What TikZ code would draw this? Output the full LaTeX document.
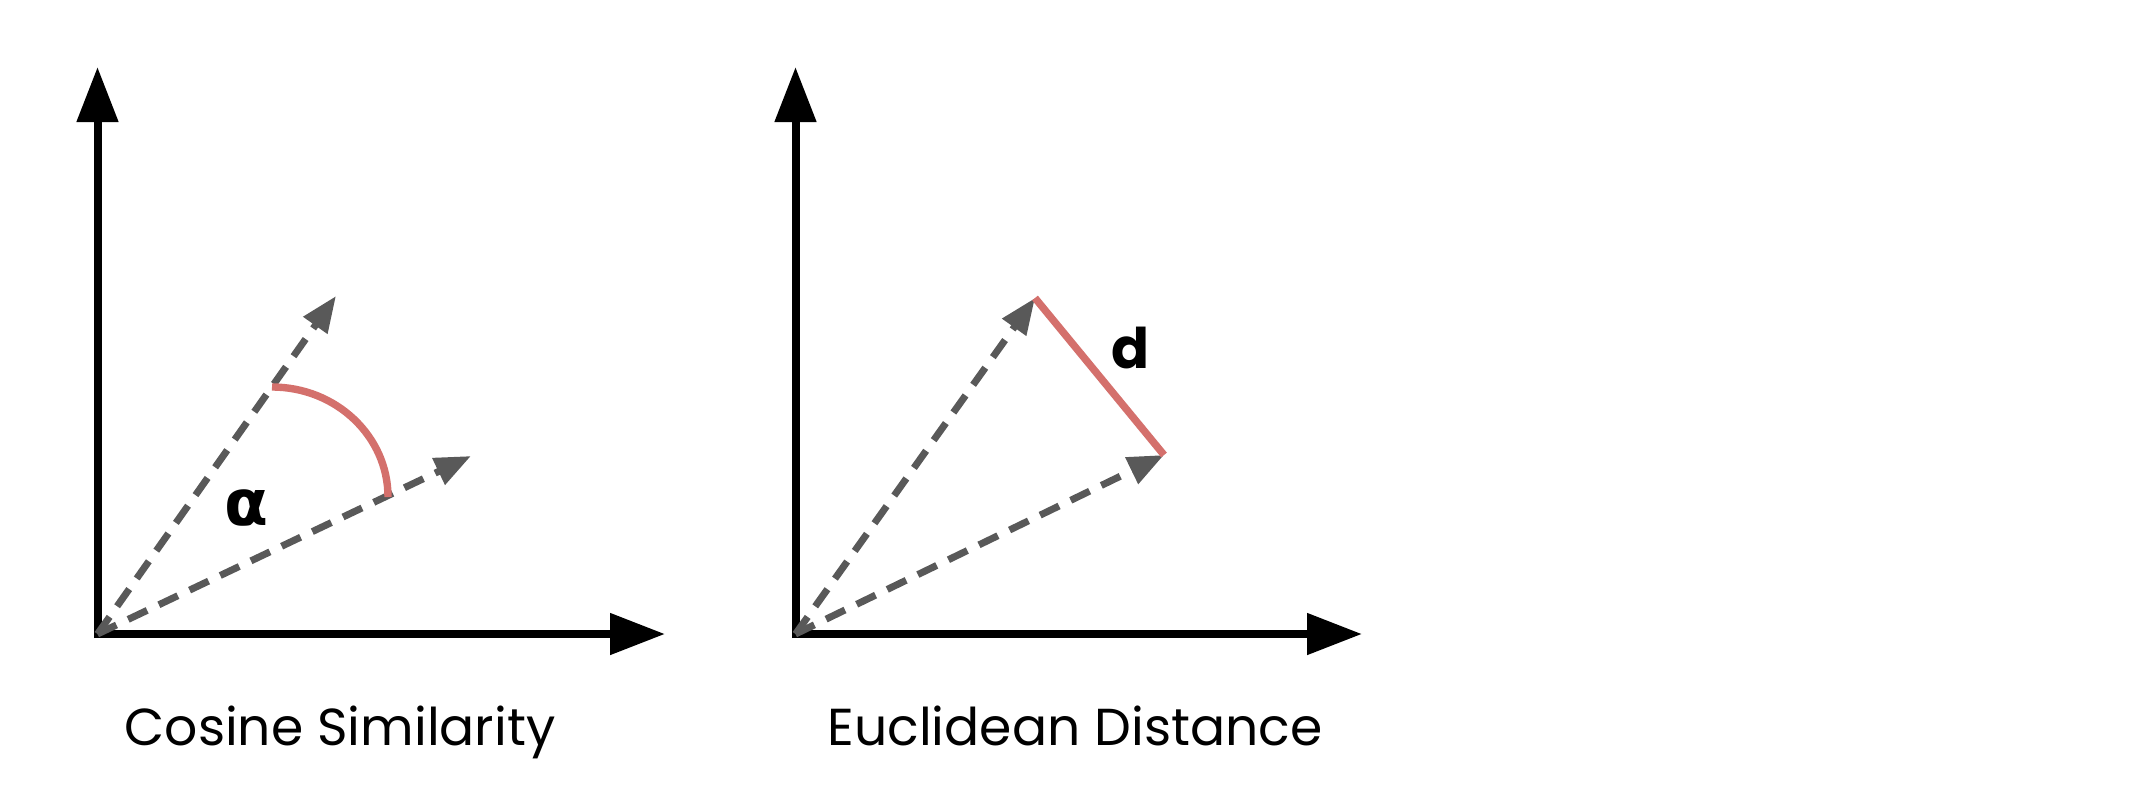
\documentclass[tikz,border=0pt]{standalone}
\usepackage{fontspec}
\setmainfont{Poppins}
\newfontfamily\greekfont{DejaVu Sans}
\usetikzlibrary{arrows.meta}
\definecolor{vecgrey}{HTML}{595959}
\definecolor{distred}{HTML}{D4706C}
\tikzset{
  axis/.style={line width=4pt, -{Triangle[length=27.5pt,width=20pt]}},
  vec/.style={vecgrey, line width=3.5pt, dash pattern=on 10.5pt off 6.5pt,
    -{Triangle[length=18pt,width=14pt]}},
  gap/.style={distred, line width=3.7pt},
  lbl/.style={font=\fontsize{26}{30}\selectfont},
  sym/.style={font=\fontsize{28}{32}\selectfont\bfseries}
}
\begin{document}
\begin{tikzpicture}[x=0.5pt,y=-0.5pt]
  \useasboundingbox (0,0) rectangle (2150,810);
  \draw
    (97.5,634) coordinate (o1)
    (97.5,67) coordinate (y1)
    (665,634) coordinate (x1)
    (336,296) coordinate (u1)
    (471,456) coordinate (v1)
    (272,387) coordinate (a1)
    (795.5,634) coordinate (o2)
    (795.5,67) coordinate (y2)
    (1362,634) coordinate (x2)
    (1035,298) coordinate (u2)
    (1164,455) coordinate (v2);
  \begin{scope}[axis]
    \draw ([yshift=-2pt]o1) to (y1);
    \draw (o1) to (x1);
    \draw ([yshift=-2pt]o2) to (y2);
    \draw (o2) to (x2);
  \end{scope}
  \begin{scope}[vec]
    \draw (o1) to (u1);
    \draw (o1) to (v1);
    \draw (o2) to (u2);
    \draw (o2) to (v2);
  \end{scope}
  \draw[gap] (a1) arc[start angle=90, end angle=0, x radius=58pt, y radius=55pt];
  \draw[gap] (u2) to (v2);
  \node[sym, font=\fontsize{32}{36}\selectfont\bfseries] (alpha) at (246,508) {\greekfont α};
  \node[sym] (d) at (1130,348) {d};
  \node[lbl, anchor=base] (cos) at (340,745) {Cosine Similarity};
  \node[lbl, anchor=base] (euc) at (1075,745) {Euclidean Distance};
\end{tikzpicture}
\end{document}
